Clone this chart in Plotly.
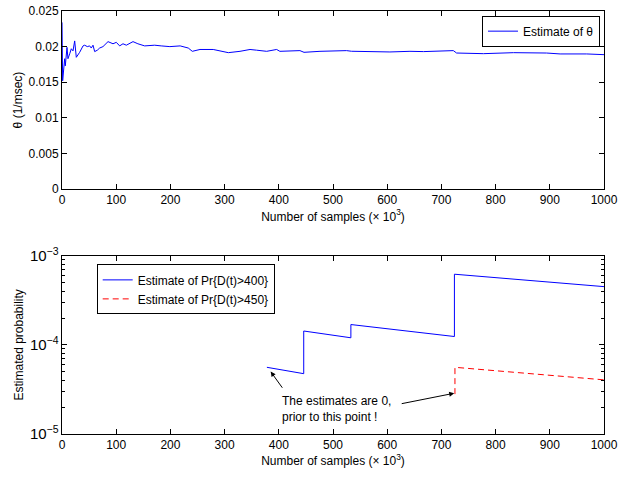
import plotly.graph_objects as go

# ---- data (x in units of 10^3 samples) ----
theta_x = [0, 1.2, 4.9, 6.1, 9.2, 11, 14.2, 17.2, 20.3, 23.4, 26.4, 32.6, 38.8, 41.8, 46.7, 51, 54, 57.2,
           60.3, 65.2, 69.5, 75.6, 84.9, 94.1, 100.2, 106.4, 112.5, 118.7, 131, 140, 152.5, 171, 183, 199,
           218, 233, 240.4, 254.6, 279, 294.6, 306.9, 328.4, 346.9, 359, 377.6, 396, 402, 439, 446.5, 476,
           500.6, 525, 534, 562, 586.7, 605, 642, 667, 722, 728, 777.5, 833, 894, 919, 968, 1000]
theta_y = [0.0234, 0.0152, 0.0183, 0.0173, 0.0199, 0.0183, 0.0190, 0.0197, 0.0194, 0.0208, 0.0185, 0.0192,
           0.0201, 0.0202, 0.0200, 0.0201, 0.0198, 0.0202, 0.0193, 0.0195, 0.0198, 0.0200, 0.0207, 0.0204,
           0.0206, 0.0201, 0.0204, 0.0202, 0.0207, 0.0204, 0.0201, 0.0202, 0.0201, 0.0200, 0.0201, 0.0198,
           0.01934, 0.0196, 0.0196, 0.01934, 0.01915, 0.01934, 0.0196, 0.0195, 0.01934, 0.0196, 0.01934,
           0.01944, 0.0192, 0.01934, 0.01944, 0.01944, 0.01935, 0.0193, 0.01929, 0.01925, 0.01934, 0.0193,
           0.01944, 0.0191, 0.01901, 0.01915, 0.0191, 0.01897, 0.01897, 0.01887]

p400_x = [378, 446, 446, 533, 533, 724, 724, 1000]
p400_y = [5.6e-5, 4.75e-5, 1.43e-4, 1.2e-4, 1.69e-4, 1.24e-4, 6.2e-4, 4.5e-4]

p450_x = [725, 725, 1000]
p450_y = [2.8e-5, 5.6e-5, 4.05e-5]

x_ticks = [0, 100, 200, 300, 400, 500, 600, 700, 800, 900, 1000]
theta_ticks = [0, 0.005, 0.01, 0.015, 0.02, 0.025]
theta_labels = ["0", "0.005", "0.01", "0.015", "0.02", "0.025"]

FONT = "Liberation Sans, Arial, sans-serif"

fig = go.Figure()
fig.add_trace(go.Scatter(x=theta_x, y=theta_y, mode="lines", name="Estimate of θ",
                         line=dict(color="#0000ff", width=1), xaxis="x", yaxis="y", legend="legend"))
fig.add_trace(go.Scatter(x=p400_x, y=p400_y, mode="lines", name="Estimate of Pr{D(t)>400}",
                         line=dict(color="#0000ff", width=1), xaxis="x2", yaxis="y2", legend="legend2"))
fig.add_trace(go.Scatter(x=p450_x, y=p450_y, mode="lines", name="Estimate of Pr{D(t)>450}",
                         line=dict(color="#ff0000", width=1, dash="6px,4px"), xaxis="x2", yaxis="y2",
                         legend="legend2"))

axis_common = dict(showline=True, linecolor="black", linewidth=1, mirror="ticks", ticks="inside",
                   ticklen=5, tickcolor="black", showgrid=False, zeroline=False,
                   ticklabeloverflow="allow", tickfont=dict(size=12, color="black"))

xtitle = dict(text="Number of samples (× 10<sup>3</sup>)", font=dict(size=12, color="black"), standoff=2)

fig.update_layout(
    width=628, height=477,
    paper_bgcolor="white", plot_bgcolor="white",
    font=dict(family=FONT, size=12, color="black"),
    margin=dict(l=62, r=24, t=11, b=43, autoexpand=False),
    xaxis=dict(domain=[0, 1], anchor="y", range=[0, 1000], tickvals=x_ticks, title=xtitle, **axis_common),
    yaxis=dict(domain=[0.579, 1], anchor="x", range=[0, 0.025], tickvals=theta_ticks,
               ticktext=theta_labels,
               title=dict(text="θ (1/msec)", font=dict(size=12, color="black"), standoff=3), **axis_common),
    xaxis2=dict(domain=[0, 1], anchor="y2", range=[0, 1000], tickvals=x_ticks, title=xtitle, **axis_common),
    yaxis2=dict(domain=[0, 0.4215], anchor="x2", type="log", range=[-5, -3], dtick=1,
                exponentformat="power",
                minor=dict(ticks="inside", ticklen=3, dtick="D1", tickcolor="black", showgrid=False),
                title=dict(text="Estimated probability", font=dict(size=12, color="black"), standoff=3),
                **axis_common),
    showlegend=True,
    legend=dict(x=0.9926, y=0.989, xanchor="right", yanchor="top", bgcolor="white",
                bordercolor="black", borderwidth=1, font=dict(size=12), tracegroupgap=0,
                itemwidth=30),
    legend2=dict(x=0.064, y=0.401, xanchor="left", yanchor="top", bgcolor="white",
                 bordercolor="black", borderwidth=1, font=dict(size=12), tracegroupgap=0,
                 itemwidth=30),
)

fig.add_annotation(x=402, y=-4.72, xref="x2", yref="y2", xanchor="left", yanchor="middle", align="left",
                   text="The estimates are 0,<br>prior to this point !", showarrow=False,
                   font=dict(size=12, color="black"))
fig.add_annotation(x=385, y=-4.30, xref="x2", yref="y2", ax=408.5, ay=-4.498, axref="x2", ayref="y2",
                   text="", showarrow=True, arrowhead=2, arrowsize=1, arrowwidth=1, arrowcolor="black")
fig.add_annotation(x=723.6, y=-4.543, xref="x2", yref="y2", ax=624, ay=-4.663, axref="x2", ayref="y2",
                   text="", showarrow=True, arrowhead=2, arrowsize=1, arrowwidth=1, arrowcolor="black")

fig.write_html("out.html", config={"displayModeBar": False},
               post_script="document.body.style.margin='0';document.body.style.overflow='hidden';")
